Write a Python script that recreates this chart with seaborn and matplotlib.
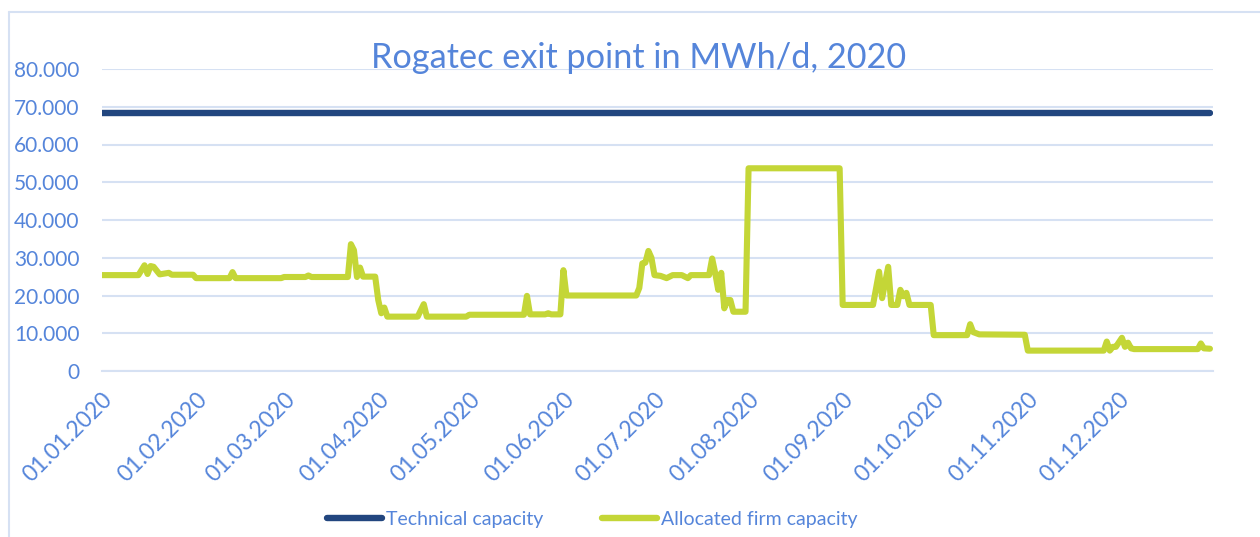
# ==========================================
# ROGATEC EXIT POINT CAPACITY, 2020
# ==========================================

import numpy as np
import pandas as pd
import matplotlib
matplotlib.use("Agg")
import matplotlib.pyplot as plt
import matplotlib.transforms as mtransforms
from matplotlib.ticker import FuncFormatter
from matplotlib.lines import Line2D
import seaborn as sns

# ==========================================
# 1. DATA (MWh/d)
# ==========================================

tech_dates = ["2020-01-01", "2020-12-31"]
tech_values = [68300, 68300]

alloc_dates = [
    "2020-01-01", "2020-01-13", "2020-01-15", "2020-01-16", "2020-01-17",
    "2020-01-18", "2020-01-20", "2020-01-23", "2020-01-24", "2020-01-31",
    "2020-02-01", "2020-02-12", "2020-02-13", "2020-02-14", "2020-02-29",
    "2020-03-01", "2020-03-08", "2020-03-09", "2020-03-10", "2020-03-22",
    "2020-03-23", "2020-03-24", "2020-03-25", "2020-03-26", "2020-03-27",
    "2020-03-31", "2020-04-01", "2020-04-02", "2020-04-03", "2020-04-04",
    "2020-04-14", "2020-04-16", "2020-04-17", "2020-04-30", "2020-05-01",
    "2020-05-19", "2020-05-20", "2020-05-21", "2020-05-26", "2020-05-27",
    "2020-05-28", "2020-05-31", "2020-06-01", "2020-06-02", "2020-06-25",
    "2020-06-26", "2020-06-27", "2020-06-28", "2020-06-29", "2020-06-30",
    "2020-07-01", "2020-07-03", "2020-07-05", "2020-07-07", "2020-07-10",
    "2020-07-12", "2020-07-13", "2020-07-19", "2020-07-20", "2020-07-21",
    "2020-07-22", "2020-07-23", "2020-07-24", "2020-07-25", "2020-07-26",
    "2020-07-27", "2020-07-31", "2020-08-01", "2020-08-31", "2020-09-01",
    "2020-09-11", "2020-09-13", "2020-09-14", "2020-09-16", "2020-09-17",
    "2020-09-19", "2020-09-20", "2020-09-21", "2020-09-22", "2020-09-23",
    "2020-09-30", "2020-10-01", "2020-10-12", "2020-10-13", "2020-10-14",
    "2020-10-16", "2020-10-31", "2020-11-01", "2020-11-26", "2020-11-27",
    "2020-11-28", "2020-11-29", "2020-11-30", "2020-12-02", "2020-12-03",
    "2020-12-04", "2020-12-05", "2020-12-06", "2020-12-27", "2020-12-28",
    "2020-12-29", "2020-12-31",
]
alloc_values = [
    25400, 25400, 28000, 25700, 27800,
    27600, 25600, 26000, 25500, 25500,
    24600, 24600, 26200, 24600, 24600,
    24900, 24900, 25300, 24900, 24900,
    33600, 32000, 24900, 27400, 25000,
    25000, 18800, 15300, 16800, 14400,
    14400, 17700, 14400, 14400, 14900,
    14900, 19900, 15000, 15000, 15300,
    15000, 15000, 26700, 20000, 20000,
    22000, 28500, 28700, 31800, 30000,
    25400, 25200, 24600, 25400, 25400,
    24600, 25400, 25400, 29800, 26000,
    21500, 26000, 16600, 18800, 18800,
    15700, 15700, 53700, 53700, 17500,
    17500, 26300, 19300, 27600, 17500,
    17500, 21500, 19800, 20700, 17500,
    17500, 9500, 9500, 12400, 10300,
    9700, 9600, 5400, 5400, 7800,
    5400, 6400, 6400, 8800, 6400,
    7500, 6000, 5800, 5800, 7300,
    6000, 5900,
]

tech_df = pd.DataFrame({"date": pd.to_datetime(tech_dates), "value": tech_values})
alloc_df = pd.DataFrame({"date": pd.to_datetime(alloc_dates), "value": alloc_values})

tick_dates = pd.date_range("2020-01-01", "2021-01-01", freq="MS")
tick_labels = [d.strftime("%d.%m.%Y") for d in tick_dates[:-1]] + [""]

# ==========================================
# 2. STYLE
# ==========================================

sns.set_style("white")
plt.rcParams["font.family"] = ["Lato", "DejaVu Sans"]

text_color = "#5585DA"
grid_color = "#D6E1F3"
navy = "#22467F"
lime = "#C4D637"

# ==========================================
# 3. PLOT
# ==========================================

fig = plt.figure(figsize=(12.6, 5.37), dpi=100)
ax = fig.add_axes([102 / 1260, 1 - 371 / 537, (1213 - 102) / 1260, (371 - 69) / 537])

sns.lineplot(data=tech_df, x="date", y="value", ax=ax, color=navy,
             linewidth=4.6, solid_capstyle="round", label="Technical capacity")
sns.lineplot(data=alloc_df, x="date", y="value", ax=ax, color=lime,
             linewidth=4.4, solid_capstyle="round", solid_joinstyle="round",
             label="Allocated firm capacity")

ax.set_xlim(pd.Timestamp("2020-01-01"), pd.Timestamp("2021-01-01"))
ax.set_ylim(0, 80000)
ax.set_yticks(np.arange(0, 80001, 10000))
ax.yaxis.set_major_formatter(FuncFormatter(lambda v, p: f"{v:,.0f}".replace(",", ".")))
ax.set_xticks(tick_dates)
ax.set_xticklabels(tick_labels)
ax.set_xlabel("")
ax.set_ylabel("")

ax.grid(axis="y", color=grid_color, linewidth=1.5)
ax.set_axisbelow(True)
for side in ["top", "right", "left"]:
    ax.spines[side].set_visible(False)
ax.spines["bottom"].set_color(grid_color)
ax.spines["bottom"].set_linewidth(1.5)

ax.tick_params(axis="y", length=0, pad=16, labelsize=15, labelcolor=text_color)
ax.tick_params(axis="x", length=5, width=1.5, color=grid_color, pad=8,
               labelsize=16.5, labelcolor=text_color)

offset = mtransforms.ScaledTranslation(0.0, 0, fig.dpi_scale_trans)
for lbl in ax.get_xticklabels():
    lbl.set_rotation(45)
    lbl.set_ha("right")
    lbl.set_va("top")
    lbl.set_rotation_mode("anchor")
    lbl.set_transform(lbl.get_transform() + offset)

ax.get_legend().remove()

# title overlapping plot area like the original
fig.text(639 / 1260, 1 - 68 / 537, "Rogatec exit point in MWh/d, 2020",
         ha="center", va="baseline", fontsize=24.7, color=text_color)

# legend at the bottom
handles = [Line2D([0], [0], color=navy, linewidth=4.6, solid_capstyle="round"),
           Line2D([0], [0], color=lime, linewidth=4.6, solid_capstyle="round")]
fig.legend(handles, ["Technical capacity", "Allocated firm capacity"],
           loc="center", bbox_to_anchor=(592 / 1260, 1 - 519 / 537), ncol=2,
           frameon=False, fontsize=14, labelcolor=text_color,
           handlelength=2.85, handletextpad=0.2, columnspacing=3.0)

# chart frame (cut off on right and bottom)
fig.add_artist(Line2D([8.5 / 1260, 8.5 / 1260], [0, 1 - 11.5 / 537],
                      color=grid_color, linewidth=1.5, transform=fig.transFigure))
fig.add_artist(Line2D([8.5 / 1260, 1], [1 - 11.5 / 537, 1 - 11.5 / 537],
                      color=grid_color, linewidth=1.5, transform=fig.transFigure))

plt.savefig("out.png", dpi=100)
